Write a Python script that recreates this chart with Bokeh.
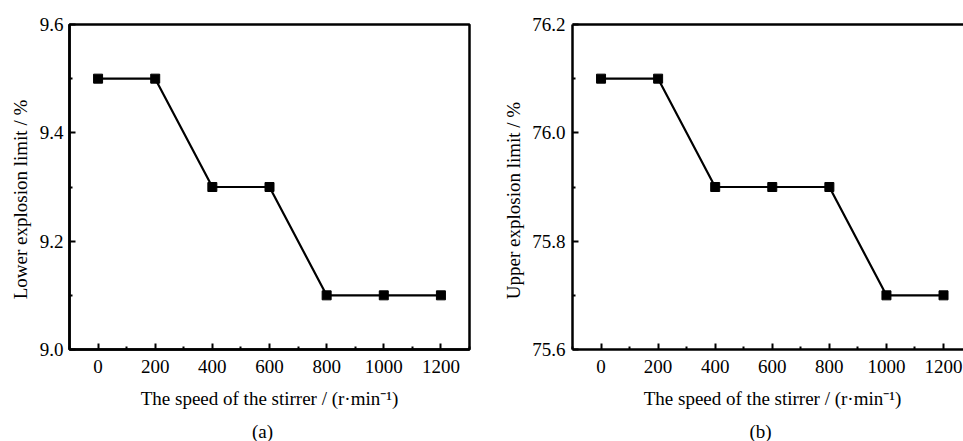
import math
from bokeh.plotting import figure
from bokeh.layouts import row, column
from bokeh.models import Range1d, FixedTicker, LinearAxis, CustomJSTickFormatter
from bokeh.core.properties import value
from bokeh.embed import file_html
from bokeh.resources import INLINE

speed = [0, 200, 400, 600, 800, 1000, 1200]
lower_limit = [9.5, 9.5, 9.3, 9.3, 9.1, 9.1, 9.1]
upper_limit = [76.1, 76.1, 75.9, 75.9, 75.9, 75.7, 75.7]

x_major = [0, 200, 400, 600, 800, 1000, 1200]
x_tick_labels = ["0", "200", "400", "600", "800", "1000", "1200"]
x_minor = [-100, 100, 300, 500, 700, 900, 1100, 1300]
lower_major = [9.0, 9.2, 9.4, 9.6]
lower_tick_labels = ["9.0", "9.2", "9.4", "9.6"]
lower_minor = [9.1, 9.3, 9.5]
upper_major = [75.6, 75.8, 76.0, 76.2]
upper_tick_labels = ["75.6", "75.8", "76.0", "76.2"]
upper_minor = [75.7, 75.9, 76.1]

xlabel = "The speed of the stirrer / (r\u00b7min\u207b\u00b9)"
FONT = value("Liberation Serif")
FS = value("19px")

H = 441
TOP = 24          # frame top
BOT = 92          # space below frame
EDGE = 2          # small border around main frame for the axis lines
FRAME_H = H - TOP - BOT


def bare(width, height, xr, yr, left=0, right=0):
    p = figure(width=width, height=height, output_backend="svg", toolbar_location=None,
               x_range=xr, y_range=yr, x_axis_type=None, y_axis_type=None,
               min_border=0, min_border_left=left, min_border_right=right,
               background_fill_color="white", border_fill_color="white")
    p.outline_line_color = None
    p.grid.visible = False
    return p


def style_axis(ax):
    ax.axis_line_width = 2.5
    ax.axis_line_color = "black"
    ax.major_tick_in = 6
    ax.major_tick_out = 0
    ax.minor_tick_in = 3
    ax.minor_tick_out = 0
    ax.major_tick_line_width = 2
    ax.minor_tick_line_width = 2
    ax.formatter = CustomJSTickFormatter(code="return ''")
    ax.major_label_text_font_size = "0px"
    ax.major_label_standoff = 0


def make_panel(y, ylabel, y_major, y_labels, y_minor, yr, xr, width, left, right,
               xlab_px, cap_px, cap, ylab_x, ylab_px, ytick_x, outline):
    sy = FRAME_H / (yr[1] - yr[0])
    frame_w = width - left - right
    sx = frame_w / (xr[1] - xr[0])

    xrange = Range1d(*xr)
    main = figure(width=width - left + EDGE, height=TOP + FRAME_H + EDGE,
                  output_backend="svg", toolbar_location=None,
                  x_range=xrange, y_range=Range1d(*yr),
                  min_border_left=EDGE, min_border_right=right,
                  min_border_top=TOP, min_border_bottom=EDGE,
                  background_fill_color="white", border_fill_color="white")
    main.grid.visible = False
    main.xaxis.ticker = FixedTicker(ticks=x_major, minor_ticks=x_minor)
    main.yaxis.ticker = FixedTicker(ticks=y_major, minor_ticks=y_minor)
    style_axis(main.xaxis[0])
    style_axis(main.yaxis[0])
    if outline:
        main.outline_line_color = "black"
        main.outline_line_width = 2.5
    else:
        main.outline_line_color = None
        top = LinearAxis(ticker=FixedTicker(ticks=[]), major_label_text_font_size="0px",
                         major_tick_in=0, major_tick_out=0, minor_tick_in=0, minor_tick_out=0,
                         axis_line_width=2.5, axis_line_color="black")
        main.add_layout(top, "above")
    main.line(speed, y, line_color="black", line_width=2.2)
    main.scatter(speed, y, marker="square", size=9, fill_color="black", line_color="black")

    # left strip (full height): y tick labels and y axis label
    yfig = bare(left - EDGE, H, Range1d(left, EDGE),
                Range1d(yr[0] - BOT / sy, yr[1] + TOP / sy))
    yfig.text(x=[ytick_x] * len(y_major), y=y_major, text=y_labels, text_font=FONT,
              text_font_size=FS, text_color="black", text_align="right",
              text_baseline="middle")
    ymid = (yr[0] + yr[1]) / 2 + ylab_px / sy
    yfig.text(x=[ylab_x], y=[ymid], text=[ylabel], text_font=FONT, text_font_size=FS,
              text_color="black", text_align="center", text_baseline="middle",
              angle=math.pi / 2)

    # bottom strip under the frame: y = pixels below the frame's bottom edge
    xfig = bare(width - left + EDGE, BOT - EDGE, xrange, Range1d(BOT, EDGE),
                left=EDGE, right=right)
    xfig.text(x=x_major, y=[16.5] * len(x_major), text=x_tick_labels, text_font=FONT,
              text_font_size=FS, text_color="black", text_align="center",
              text_baseline="middle")
    xmid = (xr[0] + xr[1]) / 2
    xfig.text(x=[xmid + xlab_px / sx], y=[49], text=[xlabel], text_font=FONT,
              text_font_size=FS, text_color="black", text_align="center",
              text_baseline="middle")
    xfig.text(x=[xmid + cap_px / sx], y=[82], text=[cap], text_font=FONT,
              text_font_size=FS, text_color="black", text_align="center",
              text_baseline="middle")

    return row(yfig, column(main, xfig, spacing=0), spacing=0)


p1 = make_panel(lower_limit, "Lower explosion limit / %", lower_major, lower_tick_labels,
                lower_minor, (9.0, 9.6), (-100, 1300), 480, 69, 11,
                0, -7, "(a)", 49, -12.5, 6, True)
p2 = make_panel(upper_limit, "Upper explosion limit / %", upper_major, upper_tick_labels,
                upper_minor, (75.6, 76.2), (-100, 1270), 483, 92, 0,
                4.5, -7.5, "(b)", 59, -13.5, 7, False)

layout = row(p1, p2, spacing=0)
open("out.html", "w").write(file_html(layout, INLINE))
